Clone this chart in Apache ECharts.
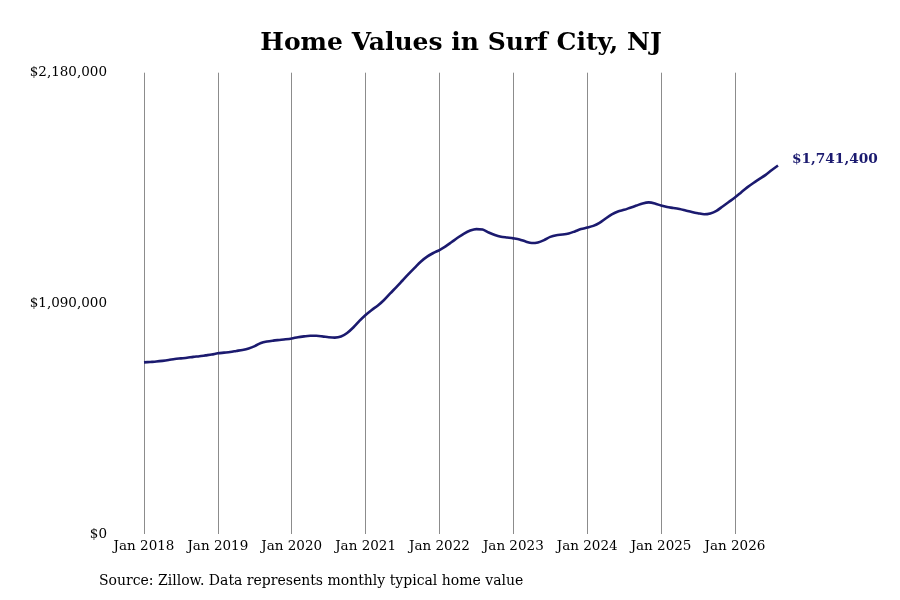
<!DOCTYPE html>
<html>
<head>
<meta charset="utf-8">
<script src="https://cdn.jsdelivr.net/npm/echarts@6/dist/echarts.min.js"></script>
<style>
  html, body { margin: 0; padding: 0; background: #fff; }
  #chart { width: 900px; height: 600px; }
</style>
</head>
<body>
<div id="chart"></div>
<script>
// monthly typical home value, Surf City NJ
var Years = ['2018','2019','2020','2021','2022','2023','2024','2025','2026'];
var Months = ['Jan','Feb','Mar','Apr','May','Jun','Jul','Aug','Sep','Oct','Nov','Dec'];
var Values = [
  811000, 813000, 815000, 818000, 822000, 827000, 830000, 833000, 837000, 840000, 844000, 848000, // 2018
  854000, 857000, 860000, 865000, 870000, 877000, 888000, 903000, 910000, 914000, 917000, 920000, // 2019
  924000, 930000, 934000, 937000, 937000, 934000, 930000, 928000, 933000, 950000, 976000, 1007000, // 2020
  1035000, 1059000, 1080000, 1106000, 1137000, 1167000, 1198000, 1229000, 1259000, 1288000, 1311000, 1328000, // 2021
  1342000, 1359000, 1380000, 1401000, 1420000, 1434000, 1441000, 1439000, 1425000, 1413000, 1405000, 1401000, // 2022
  1397000, 1392000, 1382000, 1375000, 1378000, 1389000, 1404000, 1412000, 1415000, 1420000, 1430000, 1441000, // 2023
  1448000, 1456000, 1470000, 1491000, 1510000, 1524000, 1532000, 1542000, 1552000, 1562000, 1567000, 1562000, // 2024
  1552000, 1545000, 1541000, 1536000, 1529000, 1522000, 1516000, 1511000, 1515000, 1527000, 1548000, 1569000, // 2025
  1590000, 1614000, 1638000, 1659000, 1678000, 1697000, 1720000, 1741400 // 2026
];
var YTicks = [0, 1090000, 2180000];
var Title = 'Home Values in Surf City, NJ';
var Source = 'Source: Zillow. Data represents monthly typical home value';

var Dates = [];
for (var i = 0; i < Values.length; i++) {
  Dates.push(Months[i % 12] + ' ' + Years[Math.floor(i / 12)]);
}

function money(v) {
  return '$' + Math.round(v).toString().replace(/\B(?=(\d{3})+(?!\d))/g, ',');
}

var FONT = '"DejaVu Serif", serif';
var myChart = echarts.init(document.getElementById('chart'));
myChart.setOption({
  animation: false,
  backgroundColor: '#fff',
  grid: { left: 144, right: 122, top: 72.7, bottom: 66, containLabel: false },
  graphic: [
    {
      type: 'text', x: 461, y: 43,
      style: {
        text: Title, font: 'bold 25px ' + FONT, fill: '#000',
        textAlign: 'center', textVerticalAlign: 'middle'
      }
    },
    {
      type: 'text', x: 99, y: 581,
      style: {
        text: Source, font: '14px ' + FONT, fill: '#000',
        textAlign: 'left', textVerticalAlign: 'middle'
      }
    }
  ],
  xAxis: {
    type: 'category',
    data: Dates,
    boundaryGap: false,
    axisLine: { show: false },
    axisTick: { show: false },
    axisLabel: {
      interval: 11,
      margin: 5,
      fontFamily: FONT,
      fontSize: 13.5,
      color: '#000'
    },
    splitLine: {
      show: true,
      interval: 11,
      lineStyle: { color: '#8c8c8c', width: 1 }
    }
  },
  yAxis: {
    type: 'value',
    min: YTicks[0],
    max: YTicks[YTicks.length - 1],
    interval: YTicks[1] - YTicks[0],
    axisLine: { show: false },
    axisTick: { show: false },
    splitLine: { show: false },
    axisLabel: {
      margin: 37,
      fontFamily: FONT,
      fontSize: 13.5,
      color: '#000',
      formatter: function (v) { return money(v); }
    }
  },
  series: [
    {
      name: 'Home value',
      type: 'line',
      data: Values,
      smooth: 0.3,
      symbol: 'none',
      lineStyle: { color: '#1b1a6f', width: 2.6 },
      endLabel: {
        show: true,
        distance: 14,
        offset: [0, -6],
        formatter: function (p) { return money(p.value); },
        fontFamily: FONT,
        fontWeight: 'bold',
        fontSize: 13.7,
        color: '#1b1a6f'
      }
    }
  ]
});
</script>
</body>
</html>
